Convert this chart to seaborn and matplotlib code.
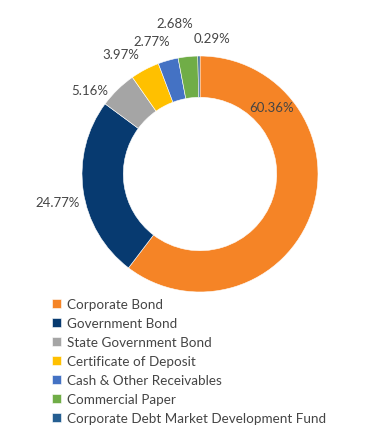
import numpy as np
import matplotlib
matplotlib.use('Agg')
import matplotlib.pyplot as plt
import seaborn as sns

# data
categories = ['Corporate Bond', 'Government Bond', 'State Government Bond',
              'Certificate of Deposit', 'Cash & Other Receivables',
              'Commercial Paper', 'Corporate Debt Market Development Fund']
shares = [60.36, 24.77, 5.16, 3.97, 2.77, 2.68, 0.29]
colors = ['#F58426', '#073A70', '#A5A5A5', '#FFC000', '#4472C4', '#70AD47', '#255E91']

# label placement (style): angle shift from wedge middle, radius
label_shift = [61.7, 3.0, 8.4, 5.7, 4.4, 3.6, -5.5]
label_rad = [0.83, 1.23, 1.18, 1.22, 1.20, 1.30, 1.16]

sns.set_theme(style='white')
plt.rcParams['font.family'] = ['Lato', 'DejaVu Sans']
text_col = '#454545'

fig = plt.figure(figsize=(3.70, 4.27), dpi=100)
# donut: centre ~ (200,175) px, radius ~118 px
ax = fig.add_axes([82/370, (427-175-118)/427, 236/370, 236/427])
wedges, _ = ax.pie(shares, colors=colors, startangle=90, counterclock=False,
                   radius=1, wedgeprops=dict(width=0.35, edgecolor='white', linewidth=0.4))
ax.set_xlim(-1, 1)
ax.set_ylim(-1, 1)
ax.set_aspect('equal')
ax.axis('off')

for w, val, sh, r in zip(wedges, shares, label_shift, label_rad):
    mid = np.deg2rad((w.theta1 + w.theta2) / 2 + sh)
    ax.text(r*np.cos(mid), r*np.sin(mid), f'{val:.2f}%', ha='center', va='center',
            fontsize=9.5, color=text_col, clip_on=False)

leg = fig.legend(wedges, categories, loc='upper left', bbox_to_anchor=(52/370, 1-299/427),
                 frameon=False, fontsize=9.7, handlelength=0.65, handleheight=0.65,
                 handletextpad=0.45, labelspacing=0.52, borderaxespad=0, borderpad=0)
for t in leg.get_texts():
    t.set_color(text_col)

fig.savefig('out.png', dpi=100)
